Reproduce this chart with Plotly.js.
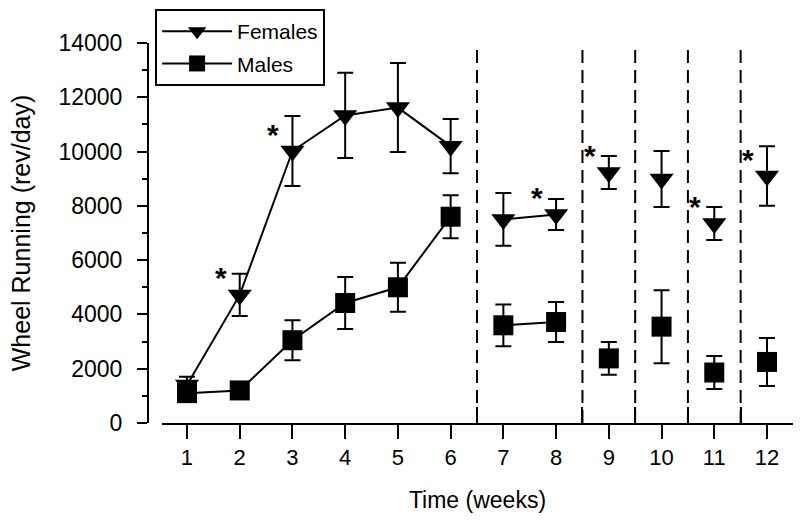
<!DOCTYPE html>
<html>
<head>
<meta charset="utf-8">
<script src="https://cdn.plot.ly/plotly-3.0.1.min.js"></script>
<style>html,body{margin:0;padding:0;background:#fff;}#chart{width:800px;height:526px;}</style>
</head>
<body>
<div id="chart"></div>
<script>
// ---- data ----
const weeks = [1, 2, 3, 4, 5, 6, 7, 8, 9, 10, 11, 12];
const femalesMean = [1400, 4720, 10020, 11330, 11620, 10200, 7500, 7680, 9230, 8990, 7350, 9100];
const femalesSEM  = [300, 780, 1290, 1570, 1640, 1000, 970, 570, 610, 1030, 610, 1100];
const malesMean   = [1100, 1200, 3050, 4420, 5000, 7600, 3600, 3720, 2380, 3550, 1860, 2250];
const malesSEM    = [200, 150, 740, 960, 900, 790, 770, 740, 605, 1345, 610, 885];
// connected groups of weeks (separated by dashed lines)
const segments = [[1, 2, 3, 4, 5, 6], [7, 8], [9], [10], [11], [12]];
// weeks with significant sex difference (*)
const sigWeeks = [2, 3, 8, 9, 11, 12];
const tickLabels = weeks.map(String);

// ---- build gapped arrays from segments ----
function gapped(vals) {
  const out = [];
  segments.forEach((seg, i) => {
    if (i > 0) out.push(null);
    seg.forEach(w => out.push(vals[weeks.indexOf(w)]));
  });
  return out;
}
const xs = gapped(weeks);
const dividers = segments.slice(1).map(seg => seg[0] - 0.5);

const fontFam = 'Liberation Sans, Arial, Helvetica, sans-serif';

const traces = [
  {
    name: 'Females', x: xs, y: gapped(femalesMean), type: 'scatter', mode: 'lines+markers',
    connectgaps: false,
    line: {color: 'black', width: 2},
    marker: {symbol: 'triangle-down', size: 21, color: 'black'},
    error_y: {type: 'data', array: gapped(femalesSEM), visible: true, color: 'black', thickness: 2, width: 8},
    legendgroup: 'f'
  },
  {
    name: 'Males', x: xs, y: gapped(malesMean), type: 'scatter', mode: 'lines+markers',
    connectgaps: false,
    line: {color: 'black', width: 2},
    marker: {symbol: 'square', size: 20, color: 'black'},
    error_y: {type: 'data', array: gapped(malesSEM), visible: true, color: 'black', thickness: 2, width: 8},
    legendgroup: 'm'
  }
];

const shapes = dividers.map(d => ({
  type: 'line', xref: 'x', yref: 'y', x0: d, x1: d, y0: 0, y1: 14000,
  line: {color: 'black', width: 2, dash: '13px,7px'}
}));

const annotations = sigWeeks.map(w => ({
  x: w, y: femalesMean[weeks.indexOf(w)], xref: 'x', yref: 'y',
  text: '<b>*</b>', showarrow: false, xshift: -19, yshift: 17,
  font: {family: fontFam, size: 30, color: 'black'}
}));

const layout = {
  width: 800, height: 526,
  margin: {l: 148, r: 7, t: 43, b: 103, pad: 0},
  paper_bgcolor: 'white', plot_bgcolor: 'white',
  font: {family: fontFam, color: 'black', size: 22},
  showlegend: true,
  legend: {
    x: 0.011, y: 1.0895, xanchor: 'left', yanchor: 'top',
    bordercolor: 'black', borderwidth: 2, bgcolor: 'white',
    font: {family: fontFam, size: 21, color: 'black'},
    tracegroupgap: 2, itemwidth: 70
  },
  xaxis: {
    domain: [14 / 645, 1], range: [0.526, 12.493], anchor: 'y',
    showline: true, linecolor: 'black', linewidth: 2, showgrid: false, zeroline: false,
    tickmode: 'array', tickvals: weeks, ticktext: tickLabels,
    ticks: 'outside', ticklen: 14, tickwidth: 2, tickcolor: 'black',
    tickfont: {family: fontFam, size: 22, color: 'black'},
    minor: {tickmode: 'array', tickvals: dividers, ticks: 'inside', ticklen: 16, tickwidth: 2, tickcolor: 'black', showgrid: false},
    title: {text: 'Time (weeks)', font: {family: fontFam, size: 23, color: 'black'}, standoff: 22}
  },
  yaxis: {
    range: [0, 14000], anchor: 'free', position: 0,
    showline: true, linecolor: 'black', linewidth: 2, showgrid: false, zeroline: false,
    tickmode: 'linear', tick0: 0, dtick: 2000, tickformat: 'd',
    ticks: 'outside', ticklen: 10, tickwidth: 2, tickcolor: 'black',
    ticklabelstandoff: 10,
    tickfont: {family: fontFam, size: 23, color: 'black'},
    minor: {dtick: 1000, ticks: 'outside', ticklen: 5, tickwidth: 2, tickcolor: 'black', showgrid: false},
    title: {text: 'Wheel Running (rev/day)', font: {family: fontFam, size: 25, color: 'black'}, standoff: 20}
  },
  shapes: shapes,
  annotations: annotations
};

Plotly.newPlot('chart', traces, layout, {staticPlot: true, displayModeBar: false});
</script>
</body>
</html>
